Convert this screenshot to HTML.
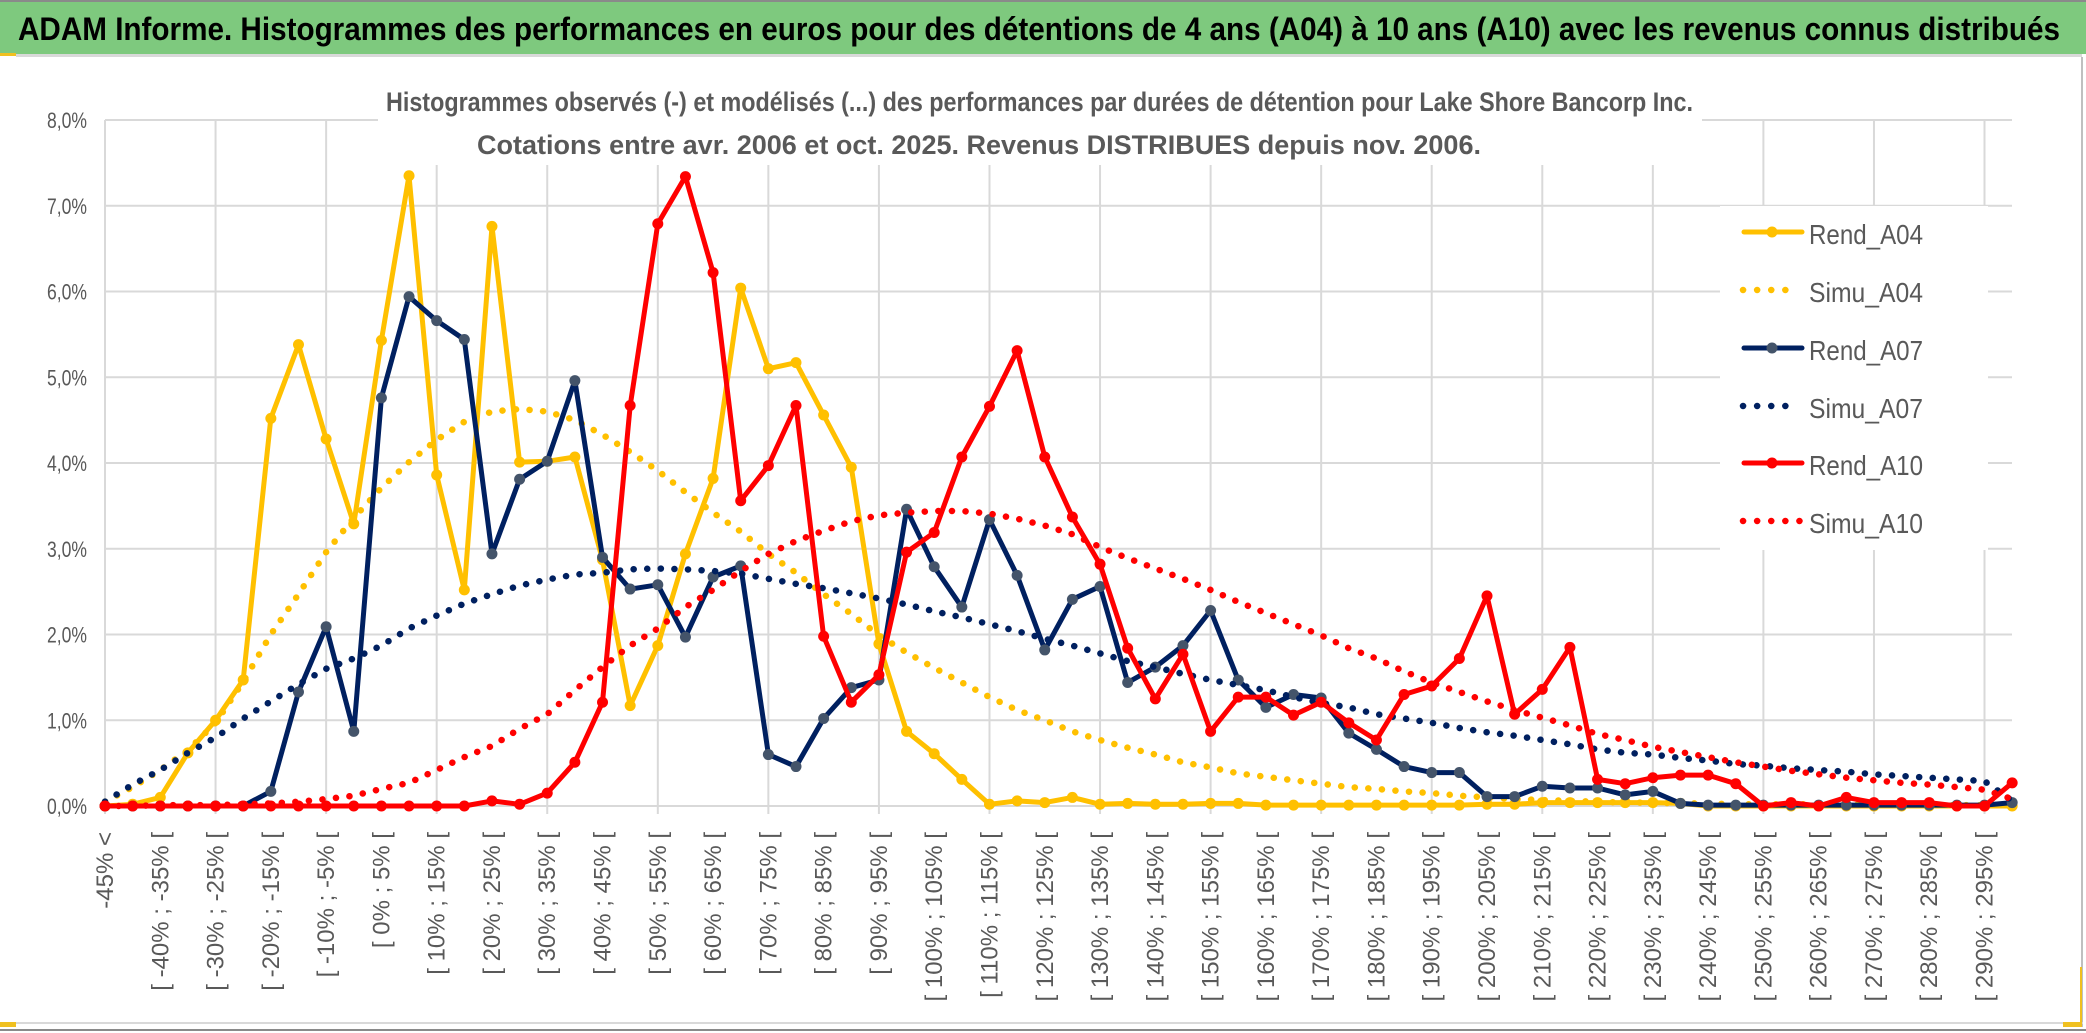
<!DOCTYPE html>
<html><head><meta charset="utf-8"><style>
html,body{margin:0;padding:0;background:#fff;}
svg{display:block;}
text{font-family:"Liberation Sans Narrow","Liberation Sans",sans-serif;}
</style></head><body>
<svg id="chart" width="2086" height="1033" viewBox="0 0 2086 1033" xmlns="http://www.w3.org/2000/svg">
<rect x="0" y="0" width="2086" height="1033" fill="#fff"/>
<rect x="0" y="1" width="2086" height="53" fill="#7EC97E"/>
<rect x="0" y="0" width="2086" height="2" fill="#8a8a8a"/>
<rect x="16" y="54" width="2066" height="3" fill="#d9d9d9"/>
<rect x="0" y="53" width="16" height="3" fill="#F0C020"/>
<text x="18" y="40" font-size="32" font-weight="bold" fill="#000" textLength="2042" lengthAdjust="spacingAndGlyphs">ADAM Informe. Histogrammes des performances en euros pour des détentions de 4 ans (A04) à 10 ans (A10) avec les revenus connus distribués</text>
<rect x="2081" y="57" width="2" height="970" fill="#bfbfbf"/>
<rect x="0" y="1022" width="2083" height="2" fill="#d9d9d9"/>
<rect x="0" y="1029" width="2086" height="2" fill="#8a8a8a"/>
<rect x="0" y="1022" width="16" height="5" fill="#F0C020"/>
<rect x="2063" y="967" width="19" height="60" fill="#F0C020"/>
<rect x="2063" y="967" width="17" height="55" fill="#fff"/>
<g id="grid"></g>
<rect x="378" y="60" width="1324" height="105" fill="#fff"/>
<rect x="1720" y="206" width="268" height="344" fill="#fff"/>
<text x="386" y="111" font-size="27" font-weight="bold" fill="#595959" textLength="1307" lengthAdjust="spacingAndGlyphs">Histogrammes observés (-) et modélisés (...) des performances par durées de détention pour Lake Shore Bancorp Inc.</text>
<text x="477" y="154" font-size="27" font-weight="bold" fill="#595959" textLength="1004" lengthAdjust="spacingAndGlyphs">Cotations entre avr. 2006 et oct. 2025. Revenus DISTRIBUES depuis nov. 2006.</text>
<g id="yaxis"></g>
<g id="xaxis"></g>
<g id="series"></g>
<g id="legend"></g>
</svg>
<script>
const categories = ["-45% <","[ -45% ; -40% [","[ -40% ; -35% [","[ -35% ; -30% [","[ -30% ; -25% [","[ -25% ; -20% [","[ -20% ; -15% [","[ -15% ; -10% [","[ -10% ; -5% [","[ -5% ; 0% [",
"[ 0% ; 5% [","[ 5% ; 10% [","[ 10% ; 15% [","[ 15% ; 20% [","[ 20% ; 25% [","[ 25% ; 30% [","[ 30% ; 35% [","[ 35% ; 40% [","[ 40% ; 45% [","[ 45% ; 50% [",
"[ 50% ; 55% [","[ 55% ; 60% [","[ 60% ; 65% [","[ 65% ; 70% [","[ 70% ; 75% [","[ 75% ; 80% [","[ 80% ; 85% [","[ 85% ; 90% [","[ 90% ; 95% [","[ 95% ; 100% [",
"[ 100% ; 105% [","[ 105% ; 110% [","[ 110% ; 115% [","[ 115% ; 120% [","[ 120% ; 125% [","[ 125% ; 130% [","[ 130% ; 135% [","[ 135% ; 140% [","[ 140% ; 145% [","[ 145% ; 150% [",
"[ 150% ; 155% [","[ 155% ; 160% [","[ 160% ; 165% [","[ 165% ; 170% [","[ 170% ; 175% [","[ 175% ; 180% [","[ 180% ; 185% [","[ 185% ; 190% [","[ 190% ; 195% [","[ 195% ; 200% [",
"[ 200% ; 205% [","[ 205% ; 210% [","[ 210% ; 215% [","[ 215% ; 220% [","[ 220% ; 225% [","[ 225% ; 230% [","[ 230% ; 235% [","[ 235% ; 240% [","[ 240% ; 245% [","[ 245% ; 250% [",
"[ 250% ; 255% [","[ 255% ; 260% [","[ 260% ; 265% [","[ 265% ; 270% [","[ 270% ; 275% [","[ 275% ; 280% [","[ 280% ; 285% [","[ 285% ; 290% [","[ 290% ; 295% [","[ 295% ; 300% ["];
const yTickValues = [0,1,2,3,4,5,6,7,8];
const yTickLabels = ["0,0%","1,0%","2,0%","3,0%","4,0%","5,0%","6,0%","7,0%","8,0%"];
const rendA04 = [0,0.02,0.1,0.62,1.0,1.47,4.52,5.38,4.28,3.29,5.43,7.35,3.86,2.52,6.76,4.01,4.02,4.07,2.87,1.17,1.87,2.94,3.82,6.04,5.1,5.17,4.56,3.95,1.89,0.87,0.61,0.31,0.02,0.06,0.04,0.1,0.02,0.03,0.02,0.02,0.03,0.03,0.01,0.01,0.01,0.01,0.01,0.01,0.01,0.01,0.02,0.02,0.04,0.04,0.04,0.04,0.04,0.03,0,0,0,0,0,0,0,0,0,0,0,0];
const simuA04 = [0.05,0.22,0.42,0.65,0.97,1.45,2.0,2.47,2.96,3.36,3.71,4.01,4.27,4.48,4.6,4.63,4.6,4.5,4.33,4.13,3.91,3.66,3.42,3.2,2.94,2.72,2.47,2.24,1.99,1.79,1.61,1.44,1.27,1.12,1.0,0.87,0.77,0.68,0.6,0.51,0.45,0.38,0.34,0.3,0.26,0.22,0.2,0.17,0.15,0.12,0.1,0.08,0.07,0.06,0.05,0.04,0.04,0.03,0.03,0.02,0.02,0.02,0.02,0.02,0.01,0.01,0.01,0.01,0.01,0.01];
const rendA07 = [0,0,0,0,0,0,0.17,1.33,2.09,0.87,4.76,5.94,5.66,5.44,2.94,3.81,4.02,4.96,2.9,2.53,2.58,1.97,2.67,2.8,0.6,0.46,1.02,1.38,1.47,3.46,2.79,2.32,3.34,2.69,1.82,2.41,2.56,1.44,1.62,1.87,2.28,1.47,1.15,1.3,1.26,0.85,0.66,0.46,0.39,0.39,0.11,0.11,0.23,0.21,0.21,0.13,0.17,0.03,0.01,0.01,0.01,0.01,0.01,0.01,0.01,0.01,0.01,0.01,0.01,0.04];
const simuA07 = [0.05,0.25,0.42,0.62,0.8,1.02,1.22,1.42,1.6,1.72,1.87,2.07,2.22,2.36,2.47,2.57,2.64,2.7,2.72,2.76,2.77,2.76,2.74,2.71,2.65,2.59,2.54,2.48,2.42,2.35,2.27,2.2,2.12,2.04,1.95,1.87,1.78,1.69,1.62,1.54,1.47,1.41,1.35,1.27,1.2,1.15,1.07,1.02,0.97,0.91,0.86,0.82,0.77,0.72,0.66,0.62,0.6,0.56,0.53,0.49,0.47,0.44,0.42,0.4,0.37,0.35,0.33,0.31,0.29,0.06];
const rendA10 = [0,0,0,0,0,0,0,0,0,0,0,0,0,0,0.06,0.02,0.15,0.51,1.21,4.67,6.79,7.34,6.22,3.56,3.97,4.67,1.98,1.21,1.53,2.96,3.19,4.07,4.66,5.31,4.07,3.37,2.82,1.84,1.25,1.77,0.87,1.27,1.27,1.06,1.21,0.97,0.77,1.3,1.4,1.72,2.45,1.07,1.36,1.85,0.31,0.26,0.33,0.36,0.36,0.26,0,0.04,0,0.1,0.04,0.04,0.04,0,0,0.27];
const simuA10 = [0,0,0.01,0.01,0.01,0.02,0.03,0.05,0.08,0.12,0.2,0.27,0.42,0.57,0.7,0.9,1.07,1.35,1.62,1.87,2.07,2.32,2.52,2.74,2.94,3.09,3.21,3.32,3.39,3.42,3.44,3.44,3.41,3.35,3.27,3.17,3.02,2.89,2.77,2.65,2.52,2.38,2.25,2.12,1.99,1.84,1.72,1.57,1.44,1.33,1.22,1.12,1.03,0.94,0.84,0.77,0.69,0.63,0.57,0.51,0.46,0.41,0.37,0.33,0.3,0.27,0.25,0.22,0.19,0.08];
const seriesNames = ["Rend_A04","Simu_A04","Rend_A07","Simu_A07","Rend_A10","Simu_A10"];

const NS = "http://www.w3.org/2000/svg";
const X0 = 105, DX = 27.64, Y0 = 806, DY = 85.75, XR = 2012;
function xPos(i){ return X0 + DX * i; }
function yPos(v){ return Y0 - DY * v; }
function mk(tag, attrs, parent){ const e = document.createElementNS(NS, tag); for (const k in attrs) e.setAttribute(k, attrs[k]); parent.appendChild(e); return e; }

const grid = document.getElementById('grid');
yTickValues.forEach(function(v){
  const l = mk('line', {x1:X0, x2:XR, y1:yPos(v), y2:yPos(v), stroke:'#d9d9d9', 'stroke-width':2}, grid);
  
  
});
for (let i = 0; i < categories.length; i += 4) {
  const l = mk('line', {x1:xPos(i), x2:xPos(i), y1:yPos(8), y2:Y0 + 8, stroke:'#d9d9d9', 'stroke-width':2}, grid);
  
  
}

const yaxis = document.getElementById('yaxis');
yTickValues.forEach(function(v, k){
  const t = mk('text', {x:87, y:yPos(v) + 8, 'font-size':22, fill:'#595959', 'text-anchor':'end', textLength:40, lengthAdjust:'spacingAndGlyphs'}, yaxis);
  t.textContent = yTickLabels[k];
  
  
});

const xaxis = document.getElementById('xaxis');
categories.forEach(function(c, i){
  if (i % 2 !== 0) return;
  const x = xPos(i) + 8, y = 832;
  const t = mk('text', {x:x, y:y, 'font-size':24, fill:'#595959', 'text-anchor':'end', transform:'rotate(-90 ' + x + ' ' + y + ')', style:'font-family:"Liberation Sans",sans-serif'}, xaxis);
  t.textContent = c;
  
  
});

const seriesDefs = [
  {data: rendA04, color:'#FFC000', marker:'#FFC000', dotted:false},
  {data: simuA04, color:'#FFC000', dotted:true},
  {data: rendA07, color:'#002060', marker:'#44546A', dotted:false},
  {data: simuA07, color:'#002060', dotted:true},
  {data: rendA10, color:'#FF0000', marker:'#FF0000', dotted:false},
  {data: simuA10, color:'#FF0000', dotted:true}
];
const sg = document.getElementById('series');
seriesDefs.forEach(function(s, si){
  const g = mk('g', {}, sg);
  
  
  const pts = s.data.map(function(v, i){ return xPos(i).toFixed(1) + ',' + yPos(v).toFixed(1); }).join(' ');
  const attrs = {points:pts, fill:'none', stroke:s.color, 'stroke-linejoin':'round', 'stroke-linecap':'round'};
  if (s.dotted) { attrs['stroke-width'] = 6.5; attrs['stroke-dasharray'] = '0.1 13.5'; }
  else { attrs['stroke-width'] = 5; }
  const pl = mk('polyline', attrs, g);
  
  
  if (!s.dotted) {
    s.data.forEach(function(v, i){
      const c = mk('circle', {cx:xPos(i), cy:yPos(v), r:5.5, fill:s.marker}, g);
      
      
    });
  }
});

const lg = document.getElementById('legend');
const legendY = [234, 292, 350, 408, 465, 523];
seriesDefs.forEach(function(s, si){
  const y = legendY[si];
  const g = mk('g', {}, lg);
  
  
  if (s.dotted) {
    const end = si === 5 ? 1801 : 1789;
    mk('line', {x1:1743, x2:end, y1:y - 2, y2:y - 2, stroke:s.color, 'stroke-width':6.5, 'stroke-linecap':'round', 'stroke-dasharray':'0.1 14'}, g);
  } else {
    mk('line', {x1:1744, x2:1802, y1:y - 2, y2:y - 2, stroke:s.color, 'stroke-width':5, 'stroke-linecap':'round'}, g);
    mk('circle', {cx:1772, cy:y - 2, r:5.5, fill:s.marker}, g);
  }
  const t = mk('text', {x:1809, y:y + 10, 'font-size':28, fill:'#595959', textLength:114, lengthAdjust:'spacingAndGlyphs'}, g);
  t.textContent = seriesNames[si];
});
</script>
</body></html>
